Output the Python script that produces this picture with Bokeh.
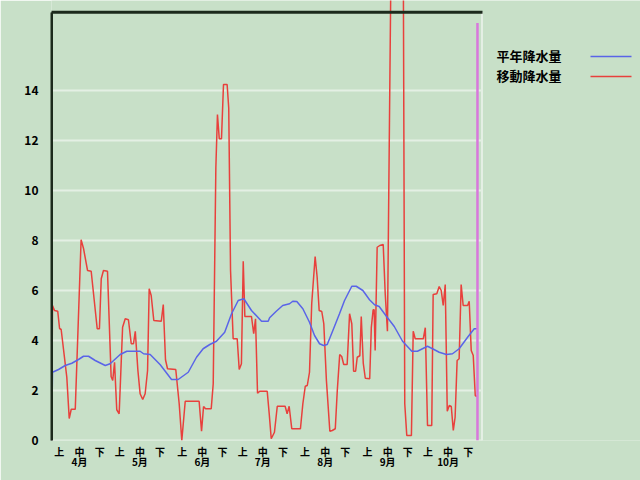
from bokeh.plotting import figure
from bokeh.models import Range1d, FixedTicker, LinearAxis
from bokeh.core.properties import value
from bokeh.embed import file_html
from bokeh.resources import INLINE

# ---- data (days counted from 1 April) ----
month_names = ["4月", "5月", "6月", "7月", "8月", "9月", "10月"]
month_lengths = [30, 31, 30, 31, 31, 30, 31]
dekad_names = ["上", "中", "下"]
y_ticks = [0, 2, 4, 6, 8, 10, 12, 14]

normal_day = [0, 0.5, 3.5, 6.8, 10.1, 13.4, 15.9, 18.4, 21.7, 26.7, 29.1, 34.1, 37.4, 44.0,
              45.7, 49.0, 54.0, 59.6, 62.9, 67.9, 72.0, 75.3, 78.6, 81.9, 86.0, 89.4, 92.7,
              95.5, 99.3, 104.3, 107.6, 108.3, 111.6, 114.8, 118.2, 119.8, 121.8, 124.8,
              128.1, 130.6, 133.1, 135.1, 136.9, 139.7, 143.0, 145.5, 149.1, 151.3, 154.6,
              157.9, 160.4, 162.7, 166.0, 170.2, 174.3, 178.9, 181.7, 184.2, 186.7, 189.2,
              192.5, 196.1, 199.1, 202.4, 206.6, 209.9, 211.7]
normal_val = [0, 2.73, 2.84, 3.0, 3.09, 3.24, 3.37, 3.37, 3.2, 3.0, 3.07, 3.44, 3.57, 3.57,
              3.47, 3.44, 3.03, 2.44, 2.44, 2.73, 3.33, 3.67, 3.84, 3.97, 4.33, 5.07, 5.6,
              5.67, 5.2, 4.77, 4.77, 4.91, 5.17, 5.4, 5.47, 5.57, 5.56, 5.27,
              4.73, 4.2, 3.87, 3.8, 3.84, 4.4, 5.07, 5.6, 6.17, 6.17, 6.0,
              5.63, 5.43, 5.36, 5.0, 4.56, 3.97, 3.57, 3.57, 3.67, 3.77, 3.67,
              3.53, 3.44, 3.47, 3.67, 4.13, 4.47, 4.47]

moving_day = [0, 0.5, 1.5, 3.1, 4.0, 4.8, 7.6, 8.8, 9.8, 11.8, 14.7, 15.9, 17.9, 19.7, 22.7,
              23.8, 24.7, 25.8, 27.8, 29.6, 30.4, 31.3, 32.4, 33.6, 35.3, 36.6, 38.2, 39.6,
              40.7, 41.6, 42.9, 44.0, 45.3, 46.5, 47.7, 48.5, 49.5, 50.8, 54.5, 55.5, 56.6,
              57.6, 61.7, 63.4, 64.7, 66.4, 73.3, 74.5, 75.5, 76.5, 79.3, 80.3, 81.6, 82.4,
              83.3, 84.4, 85.4, 87.2, 88.0, 88.9, 90.2, 92.2, 93.2, 94.3, 95.2, 96.0, 99.3,
              100.4, 101.3, 102.3, 103.4, 107.1, 108.1, 109.1, 110.7, 112.1, 116.0, 117.0,
              118.0, 119.3, 123.6, 124.8, 126.0, 127.0, 128.1, 129.2, 130.9, 131.9, 132.9,
              134.2, 135.2, 136.5, 138.2, 139.4, 140.9, 141.9, 143.1, 144.1, 145.1, 146.8,
              148.0, 149.1, 150.0, 151.0, 151.8, 153.1, 153.8, 154.8, 155.8, 158.0, 158.8,
              159.7, 160.2, 160.7, 161.7, 163.0, 164.7, 165.7, 166.8, 168.8, 174.6, 175.4,
              176.4, 178.7, 179.6, 180.6, 184.6, 185.6, 186.7, 188.8, 189.5, 191.3, 192.5,
              193.5, 194.5, 195.5, 196.5, 197.5, 198.5, 199.5, 200.4, 201.4, 202.4, 203.4,
              204.4, 206.6, 207.4, 208.4, 209.4, 210.4, 211.2]
moving_val = [0, 5.4, 5.2, 5.17, 4.48, 4.44, 2.53, 0.88, 1.25, 1.25, 8.03, 7.68, 6.8, 6.77, 4.47,
              4.47, 6.47, 6.8, 6.77, 2.56, 2.4, 3.13, 1.23, 1.07, 4.53, 4.87, 4.83, 3.87,
              3.87, 4.37, 2.8, 1.87, 1.64, 1.87, 2.8, 6.07, 5.8, 4.8, 4.77, 5.44, 3.23,
              2.87, 2.84, 1.47, 0.0, 1.57, 1.57, 0.37, 1.36, 1.27, 1.27, 2.27, 10.9, 13.04,
              12.07, 12.07, 14.24, 14.24, 13.3, 6.8, 4.07, 4.07, 2.84, 3.07, 7.17, 4.96, 4.96,
              4.27, 4.87, 1.89, 1.97, 1.97, 1.07, 0.07, 0.33, 1.37, 1.37, 1.07,
              1.37, 0.47, 0.47, 1.47, 2.17, 2.2, 2.73, 5.47, 7.36, 6.53, 5.2,
              5.16, 4.67, 2.4, 0.37, 0.4, 0.47, 2.0, 3.44, 3.36, 3.04, 3.04,
              5.07, 4.67, 2.77, 2.77, 3.33, 3.39, 4.96, 3.09, 2.49, 2.47, 4.53,
              5.23, 5.23, 3.6, 7.73, 7.8, 7.84, 5.87, 4.37, 21.0, 21.0, 1.47,
              0.2, 0.2, 4.37, 4.07, 4.07, 4.51, 0.6, 0.6, 5.84, 5.87, 6.16,
              6.0, 5.4, 6.24, 1.17, 1.4, 1.36, 0.4, 0.93, 3.2, 3.27, 6.24,
              5.4, 5.4, 5.57, 3.6, 3.4, 1.8, 1.76]

today_day = 211.5
today_top = 16.7

legend_names = ["平年降水量", "移動降水量"]

# ---- styling ----
BG = "#C8E0C8"
RED = "#E8403C"
BLUE = "#5A64E8"
MAGENTA = "#D878DC"
GRID = "#E4EFE4"
DARK = "#1C2A1C"
FONT = "Noto Sans CJK JP"

W, H = 640, 480
LEFT, BOTTOM = 51, 40
total_days = sum(month_lengths)
px_per_day = (482 - LEFT) / total_days      # plot box is 431 px wide
px_per_unit = 25.0                            # 2 mm per 50 px
x_end = (W - LEFT) / px_per_day               # frame extends to the right edge (legend area)
y_end = (H - BOTTOM) / px_per_unit            # frame extends to the top edge
box_top = 17.13                               # top border of the plot box

p = figure(width=W, height=H, output_backend="svg", toolbar_location=None,
           x_range=Range1d(0, x_end), y_range=Range1d(0, y_end),
           min_border_left=LEFT, min_border_right=0, min_border_top=0,
           min_border_bottom=BOTTOM, x_axis_location=None, y_axis_location=None)
p.background_fill_color = BG
p.border_fill_color = BG
p.outline_line_color = None
p.xgrid.visible = False
p.ygrid.visible = False

# y axis
yaxis = LinearAxis(ticker=FixedTicker(ticks=y_ticks), bounds=(0, box_top))
yaxis.axis_line_color = DARK
yaxis.axis_line_width = 2
yaxis.major_tick_line_color = None
yaxis.minor_tick_line_color = None
yaxis.major_tick_out = 0
yaxis.major_tick_in = 0
yaxis.major_label_standoff = 13
yaxis.major_label_text_font = FONT
yaxis.major_label_text_font_style = "bold"
yaxis.major_label_text_font_size = "12px"
yaxis.major_label_text_color = "black"
p.add_layout(yaxis, "left")

# x axes (dekads and months)
month_starts = []
s = 0
for L in month_lengths:
    month_starts.append(s)
    s += L
dekad_ticks = []
dekad_over = {}
month_ticks = []
month_over = {}
for mi, ms in enumerate(month_starts):
    for di in range(3):
        t = ms + 10 * di + 3.9
        dekad_ticks.append(t)
        dekad_over[t] = dekad_names[di]
        if di == 1:
            month_ticks.append(t)
            month_over[t] = month_names[mi]

for ticks, over, standoff in [(dekad_ticks, dekad_over, 3), (month_ticks, month_over, -8)]:
    ax = LinearAxis(ticker=FixedTicker(ticks=ticks), major_label_overrides=over)
    ax.axis_line_color = None
    ax.major_tick_line_color = None
    ax.minor_tick_line_color = None
    ax.major_tick_out = 0
    ax.major_tick_in = 0
    ax.major_label_standoff = standoff
    ax.major_label_text_font = FONT
    ax.major_label_text_font_style = "bold"
    ax.major_label_text_font_size = "10px"
    ax.major_label_text_color = "black"
    p.add_layout(ax, "below")

# horizontal grid lines inside the plot box
p.segment(x0=[0] * len(y_ticks), y0=y_ticks, x1=[total_days] * len(y_ticks), y1=y_ticks,
          line_color=GRID, line_width=2)
# right (light) border of the plot box
p.segment(x0=[total_days - 0.25], y0=[0], x1=[total_days - 0.25], y1=[box_top],
          line_color=GRID, line_width=2)

# data lines
p.line(moving_day, moving_val, line_color=RED, line_width=1.5)
p.line(normal_day, normal_val, line_color=BLUE, line_width=1.5)
p.segment(x0=[today_day], y0=[0], x1=[today_day], y1=[today_top],
          line_color=MAGENTA, line_width=2.5)
# top and left (dark) borders of the plot box
p.segment(x0=[-0.3, 0], y0=[box_top, 0], x1=[total_days, 0], y1=[box_top, box_top],
          line_color=DARK, line_width=3)

# legend (label left, line right), placed right of the plot box
leg_x_text = (496 - LEFT) / px_per_day
leg_x0 = (590 - LEFT) / px_per_day
leg_x1 = (631 - LEFT) / px_per_day
for i, (name, col) in enumerate(zip(legend_names, [BLUE, RED])):
    yy = (H - 55 - 20 * i - BOTTOM) / px_per_unit
    p.text(x=[leg_x_text], y=[yy], text=[name], text_font=value(FONT),
           text_font_style="bold", text_font_size="13px", text_color="black",
           text_baseline="middle", text_align="left")
    p.line(x=[leg_x0, leg_x1], y=[yy - 0.04, yy - 0.04], line_color=col, line_width=1.5)

open("out.html", "w").write(file_html(p, INLINE))
